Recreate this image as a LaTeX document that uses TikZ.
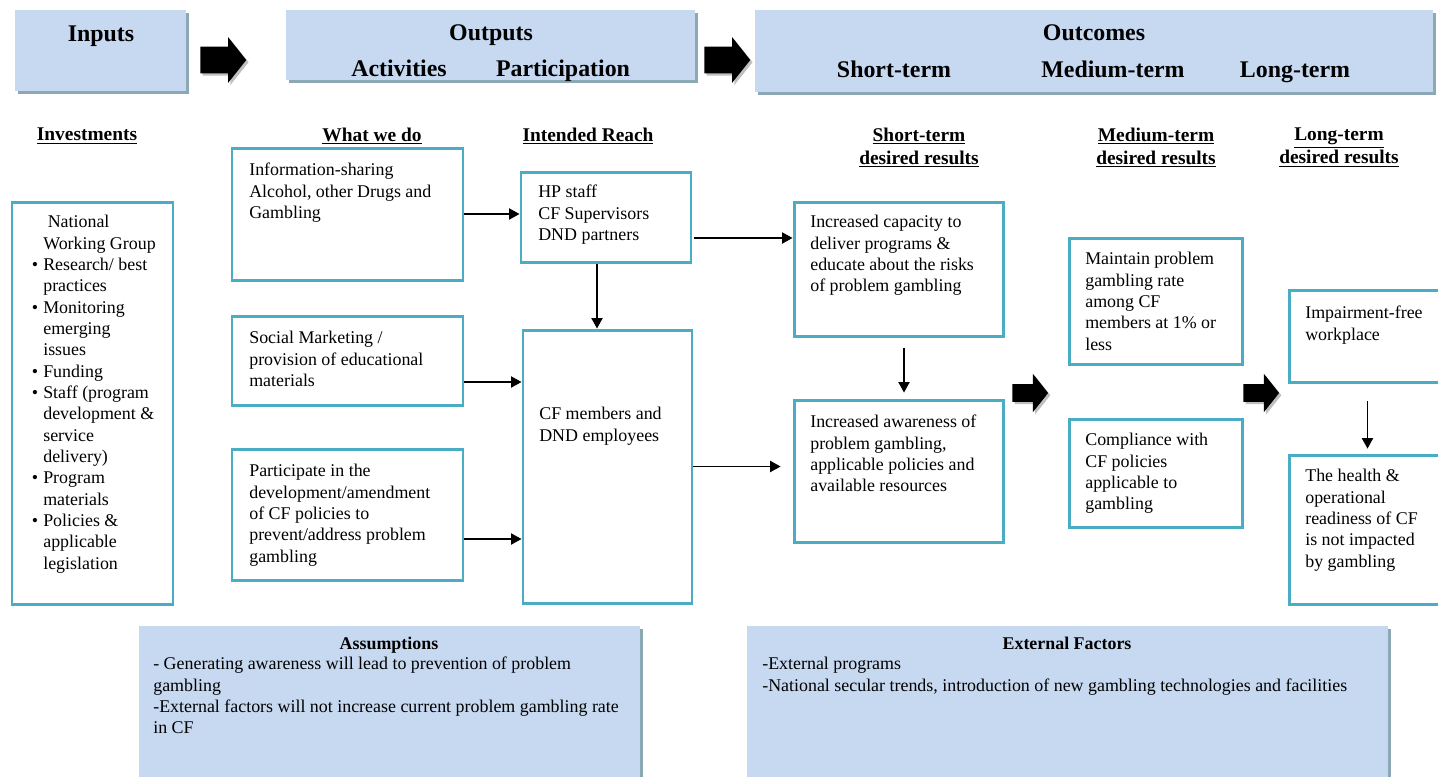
\documentclass[tikz,border=0pt]{standalone}
\usepackage{fontspec}
\setmainfont{Liberation Serif}
\usetikzlibrary{arrows.meta,calc,fit,shadows,shapes.arrows}

\definecolor{headblue}{RGB}{198,217,241}
\definecolor{headshade}{RGB}{140,168,180}
\definecolor{boxteal}{RGB}{75,172,198}

\tikzset{
  headbox/.style={fill=headblue, inner sep=0pt,
    drop shadow={shadow xshift=2pt, shadow yshift=-2pt, fill=headshade, opacity=1}},
  box/.style={draw=boxteal, line width=2pt, inner sep=0pt},
  txt/.style={anchor=north west, inner sep=0pt, align=left, font=\fontsize{12}{14.3}\selectfont},
  headtxt/.style={anchor=base, inner sep=0pt, font=\fontsize{16}{19}\selectfont\bfseries},
  coltxt/.style={inner sep=0pt, align=center, font=\fontsize{13}{15.4}\selectfont\bfseries},
  titletxt/.style={anchor=base, inner sep=0pt, font=\fontsize{12}{14.3}\selectfont\bfseries},
  link/.style={-{Triangle[length=7pt,width=7.5pt]}, line width=0.9pt},
  blockarrow/.style={single arrow, fill=black, anchor=tail, inner xsep=0pt,
    text height=0pt, text depth=0pt, single arrow tip angle=103,
    drop shadow={shadow xshift=1.5pt, shadow yshift=-1.5pt, fill=black!25, opacity=1}},
  bigarrow/.style={blockarrow, inner ysep=8.7pt, single arrow head extend=6.4pt, minimum height=30.8pt},
  smallarrow/.style={blockarrow, inner ysep=5.7pt, single arrow head extend=7pt, minimum height=24pt}
}

\begin{document}
\begin{tikzpicture}[x=0.67pt, y=-0.67pt]
\path[use as bounding box, clip] (0,0) rectangle (1438,776);

% header bands
\node[headbox, fit={(15,10) (186,91)}] (inputs) {};
\node[headbox, fit={(286,10) (695,80)}] (outputs) {};
\node[headbox, fit={(755,10) (1433,92)}] (outcomes) {};
\node[headtxt] (inputs-t) at (101,41) {Inputs};
\node[headtxt] (outputs-t) at (491,40) {Outputs};
\node[headtxt] (activ-t) at (399,76) {Activities};
\node[headtxt] (partic-t) at (563,76) {Participation};
\node[headtxt] (outcomes-t) at (1094,40) {Outcomes};
\node[headtxt] (short-t) at (894,77) {Short-term};
\node[headtxt] (medium-t) at (1113,77) {Medium-term};
\node[headtxt] (long-t) at (1295,77) {Long-term};

\node[bigarrow] (arr1) at (200,60) {};
\node[bigarrow] (arr2) at (704,60) {};
\node[smallarrow] (arr3) at (1012,393) {};
\node[smallarrow] (arr4) at (1243,393) {};

% column headings
\node[coltxt] (h-inv) at (87,136) {\underline{Investments}};
\node[coltxt] (h-do) at (372,136) {\underline{What we do}};
\node[coltxt] (h-reach) at (588,136) {\underline{Intended Reach}};
\node[coltxt] (h-st) at (919,147.5) {\underline{Short-term}\\\underline{desired results}};
\node[coltxt] (h-mt) at (1156,147.5) {\underline{Medium-term}\\\underline{desired results}};
\node[coltxt] (h-lt) at (1339,147.5) {\underline{Long-term}\\\underline{desired results}};

% boxes
\node[box, fit={(12,202) (173,604)}] (inv) {};
\node[box, fit={(232,148) (463,280)}] (act1) {};
\node[box, fit={(232,316) (463,405)}] (act2) {};
\node[box, fit={(232,449) (463,580)}] (act3) {};
\node[box, fit={(521,172) (691,262)}] (reach1) {};
\node[box, fit={(523,330) (692,603)}] (reach2) {};
\node[box, fit={(794,202) (1003,336)}] (st1) {};
\node[box, fit={(794,400) (1003,542)}] (st2) {};
\node[box, fit={(1069,238) (1242,364)}] (mt1) {};
\node[box, fit={(1069,419) (1242,527)}] (mt2) {};
\node[box, fit={(1289,290) (1446,382)}] (lt1) {};
\node[box, fit={(1289,455) (1446,604)}] (lt2) {};

\node[txt] (inv-t) at (43,215) {\hspace*{3pt}National\\Working Group\\
  \llap{\textbullet\hspace{3.5pt}}Research/ best\\practices\\
  \llap{\textbullet\hspace{3.5pt}}Monitoring\\emerging\\issues\\
  \llap{\textbullet\hspace{3.5pt}}Funding\\
  \llap{\textbullet\hspace{3.5pt}}Staff (program\\development \&\\service\\delivery)\\
  \llap{\textbullet\hspace{3.5pt}}Program\\materials\\
  \llap{\textbullet\hspace{3.5pt}}Policies \&\\applicable\\legislation};
\node[txt] (act1-t) at (249,163) {Information-sharing\\Alcohol, other Drugs and\\Gambling};
\node[txt] (act2-t) at (249,331) {Social Marketing /\\provision of educational\\materials};
\node[txt] (act3-t) at (249,464) {Participate in the\\development/amendment\\of CF policies to\\prevent/address problem\\gambling};
\node[txt] (reach1-t) at (538,185) {HP staff\\CF Supervisors\\DND partners};
\node[txt] (reach2-t) at (539,407) {CF members and\\DND employees};
\node[txt] (st1-t) at (810,215) {Increased capacity to\\deliver programs \&\\educate about the risks\\of problem gambling};
\node[txt] (st2-t) at (810,415) {Increased awareness of\\problem gambling,\\applicable policies and\\available resources};
\node[txt] (mt1-t) at (1085,252) {Maintain problem\\gambling rate\\among CF\\members at 1\% or\\less};
\node[txt] (mt2-t) at (1085,433) {Compliance with\\CF policies\\applicable to\\gambling};
\node[txt] (lt1-t) at (1305,306) {Impairment-free\\workplace};
\node[txt] (lt2-t) at (1305,469) {The health \&\\operational\\readiness of CF\\is not impacted\\by gambling};

% connectors
\draw[link] (act1.east) -- (act1.east -| reach1.west);
\draw[link] ($(act2.east)+(0,21.5)$) coordinate (a2) -- (a2 -| reach2.west);
\draw[link] ($(act3.east)+(0,24.5)$) coordinate (a3) -- (a3 -| reach2.west);
\draw[link] ($(reach1.south)+(-9,0)$) coordinate (r1) -- (r1 |- reach2.north);
\draw[link] ($(reach1.east)+(2,21)$) coordinate (r2) -- (r2 -| st1.west);
\draw[link, shorten >=8pt] (reach2.east) -- (reach2.east -| st2.west);
\draw[link, shorten <=6.7pt, shorten >=4pt] ($(st1.south)+(5.5,0)$) coordinate (s1) -- (s1 |- st2.north);
\draw[link, shorten <=12pt, shorten >=3.3pt] (lt1.south) -- (lt2.north);

% assumptions and external factors
\node[headbox, fit={(139,626) (640,790)}] (assum) {};
\node[headbox, fit={(747,626) (1388,790)}] (extern) {};
\node[titletxt] (assum-h) at (389,649) {Assumptions};
\node[txt] (assum-t) at (153,657) {- Generating awareness will lead to prevention of problem\\gambling\\-External factors will not increase current problem gambling rate\\in CF};
\node[titletxt] (extern-h) at (1067,649) {External Factors};
\node[txt] (extern-t) at (762,657) {-External programs\\-National secular trends, introduction of new gambling technologies and facilities};
\end{tikzpicture}
\end{document}
